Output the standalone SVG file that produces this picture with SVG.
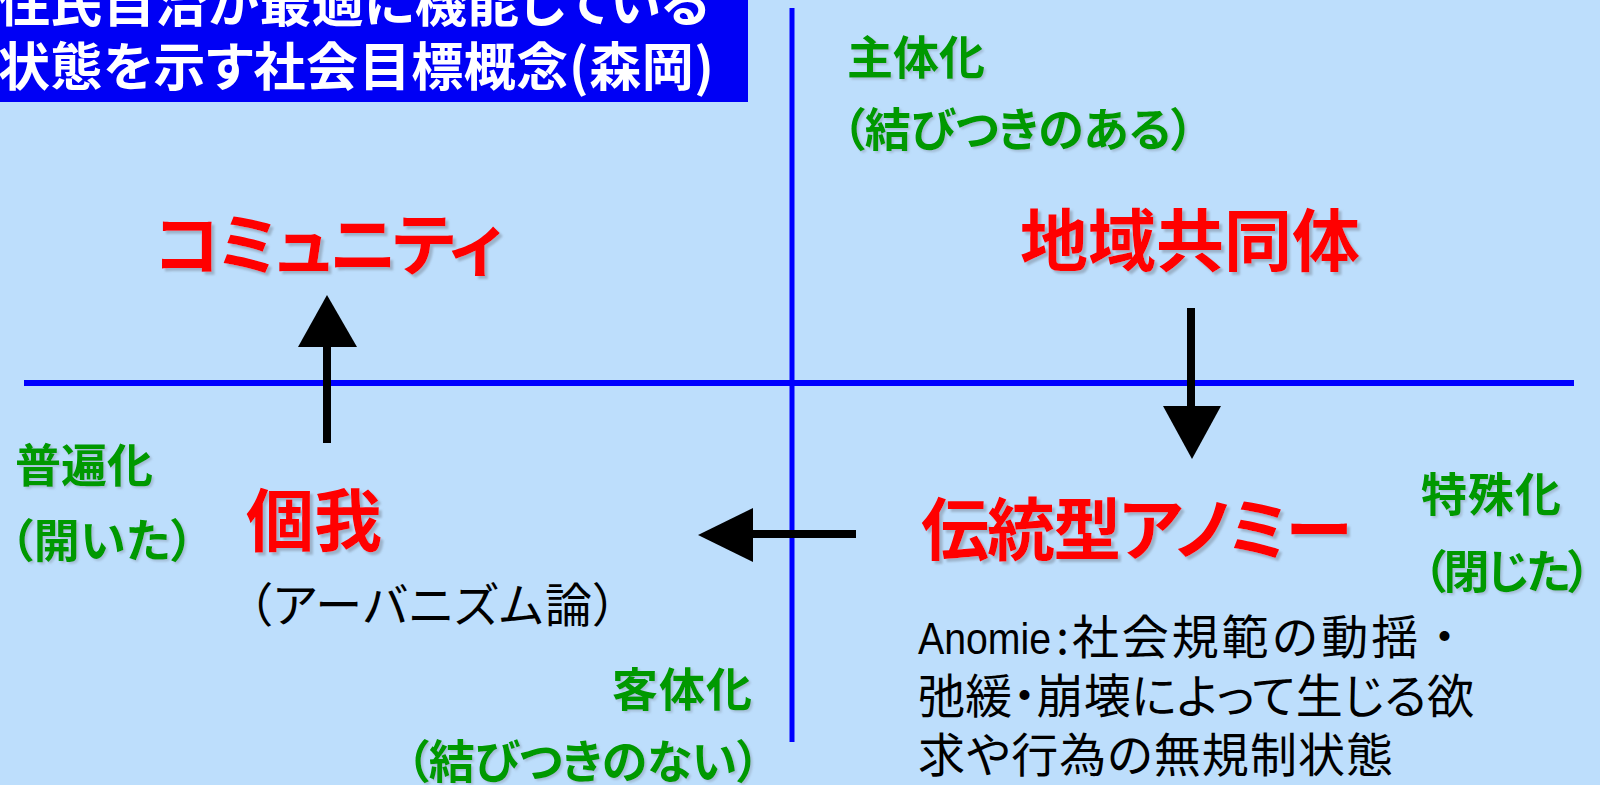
<svg xmlns="http://www.w3.org/2000/svg" width="1600" height="785" viewBox="0 0 1600 785">
<defs>
<style>
text{font-family:"Noto Sans CJK JP","Liberation Sans",sans-serif;font-feature-settings:"palt";}
.title{fill:#FFFFFF;font-weight:bold;font-size:52px;}
.red{fill:#FF0000;font-weight:bold;font-size:68px;filter:url(#shadow);}
.green{fill:#009900;font-weight:bold;font-size:46px;filter:url(#shadowS);}
.black{fill:#000000;font-size:47px;}
.full{font-feature-settings:normal;}
.axis{stroke:#0000FF;fill:none;}
.arrow{fill:#000000;}
</style>
<filter id="shadow" x="-10%" y="-20%" width="130%" height="150%">
<feDropShadow dx="3" dy="3" stdDeviation="1" flood-color="#7F8FA0" flood-opacity="0.55"/>
</filter>
<filter id="shadowS" x="-10%" y="-20%" width="130%" height="150%">
<feDropShadow dx="2" dy="2" stdDeviation="1" flood-color="#7F8FA0" flood-opacity="0.4"/>
</filter>
</defs>
<rect x="0" y="0" width="1600" height="785" fill="#BDDEFC"/>
<g id="title">
<rect x="0" y="-10" width="748" height="112" fill="#0000F5"/>
<text class="title" x="-2" y="22" textLength="711" lengthAdjust="spacing">住民自治が最適に機能している</text>
<text class="title" x="-2" y="86" textLength="716" lengthAdjust="spacing">状態を示す社会目標概念(森岡)</text>
</g>
<g id="connectors">
<line class="axis" x1="24" y1="383" x2="1574" y2="383" stroke-width="6"/>
<line class="axis" x1="792" y1="8" x2="792" y2="742" stroke-width="5"/>
<g id="arrow-up">
<rect class="arrow" x="323" y="345" width="8" height="98"/>
<polygon class="arrow" points="327,295 357,347 298,347"/>
</g>
<g id="arrow-down">
<rect class="arrow" x="1187" y="308" width="8" height="100"/>
<polygon class="arrow" points="1163,406 1221,406 1192,459"/>
</g>
<g id="arrow-left">
<rect class="arrow" x="751" y="530" width="105" height="8"/>
<polygon class="arrow" points="698,535 753,508 753,562"/>
</g>
</g>
<g id="community"><text class="red" x="154" y="270" textLength="349" lengthAdjust="spacing">コミュニティ</text></g>
<g id="chiiki"><text class="red" x="1020" y="266">地域共同体</text></g>
<g id="dentou"><text class="red" x="921" y="555" font-size="67" textLength="431" lengthAdjust="spacing">伝統型アノミー</text></g>
<g id="koga">
<text class="red" x="246" y="546">個我</text>
<text class="black" x="248" y="622" font-size="45" textLength="369" lengthAdjust="spacing">（アーバニズム論）</text>
</g>
<g id="label-shutaika">
<text class="green" x="847" y="74" textLength="138" lengthAdjust="spacing">主体化</text>
<text class="green" x="842" y="146" textLength="352" lengthAdjust="spacing">（結びつきのある）</text>
</g>
<g id="label-kyakutaika">
<text class="green" x="612" y="706" textLength="140" lengthAdjust="spacing">客体化</text>
<text class="green" x="406" y="778" textLength="354" lengthAdjust="spacing">（結びつきのない）</text>
</g>
<g id="label-fuhenka">
<text class="green" x="15" y="482" textLength="138" lengthAdjust="spacing">普遍化</text>
<text class="green" x="10" y="557" textLength="184" lengthAdjust="spacing">（開いた）</text>
</g>
<g id="label-tokushuka">
<text class="green" x="1421" y="511" textLength="140" lengthAdjust="spacing">特殊化</text>
<text class="green" x="1423" y="588" textLength="168" lengthAdjust="spacing">（閉じた）</text>
</g>
<g id="anomie">
<text class="black" x="918" y="654"><tspan font-family="Liberation Sans" font-size="44" textLength="133" lengthAdjust="spacingAndGlyphs">Anomie</tspan><tspan x="1056">:</tspan><tspan class="full" x="1072" textLength="396" lengthAdjust="spacing">社会規範の動揺・</tspan></text>
<text class="black" x="918" y="713" textLength="556" lengthAdjust="spacing">弛緩・崩壊によって生じる欲</text>
<text class="black" x="918" y="772" textLength="475" lengthAdjust="spacing">求や行為の無規制状態</text>
</g>
</svg>
